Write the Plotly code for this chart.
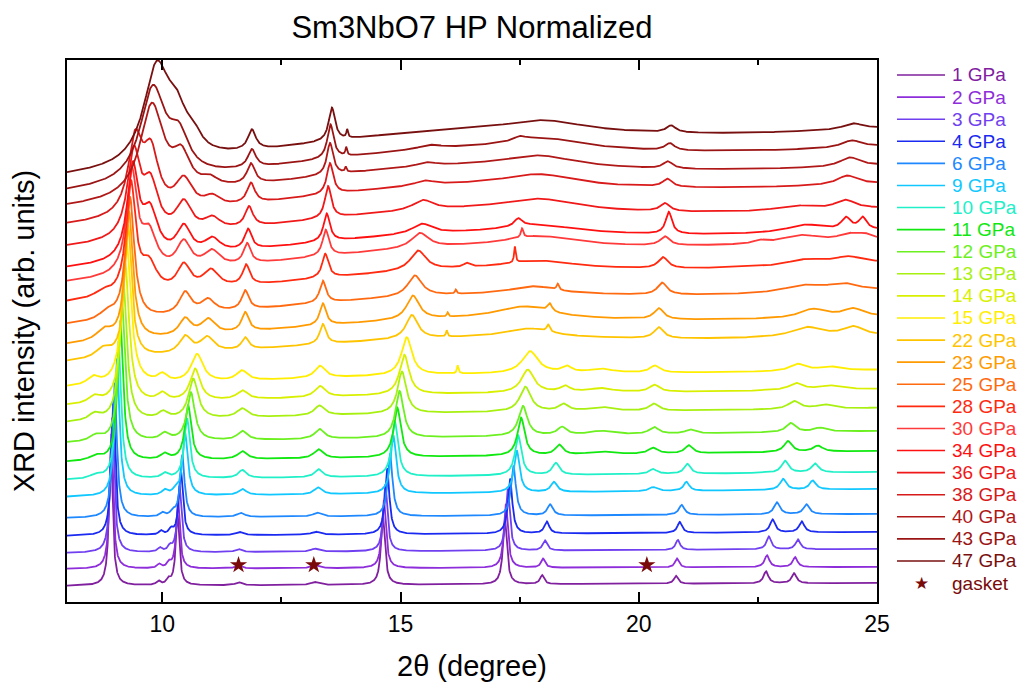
import numpy as np
import plotly.graph_objects as go

# ---------------- data ----------------
pressures = ["1 GPa", "2 GPa", "3 GPa", "4 GPa", "6 GPa", "9 GPa", "10 GPa", "11 GPa",
             "12 GPa", "13 GPa", "14 GPa", "15 GPa", "22 GPa", "23 GPa", "25 GPa",
             "28 GPa", "30 GPa", "34 GPa", "36 GPa", "38 GPa", "40 GPa", "43 GPa", "47 GPa"]

colors = ["#80209F", "#8E2DDA", "#7040F0", "#1A2AF0", "#1E88FF", "#10C8FF", "#20F0C8",
          "#10E810", "#6CF020", "#A8F010", "#D8F000", "#FFEE00", "#FFC400", "#FF9A00",
          "#FF6A10", "#FF2A10", "#FF3A3A", "#FF1010", "#F01818", "#D81A1A", "#B01818",
          "#9A1414", "#781010"]
gasket_color = "#7A0A0A"

# stacked offset of each pattern at 2theta = 8 and 2theta = 25 (arb. units)
base_left = [16, 33, 49, 66, 84, 105, 122, 140, 159, 179, 196, 214,
             239, 256, 276, 298, 318, 332, 353, 375, 393, 408, 424]
base_right = [19, 35, 53, 70, 88, 113, 130, 151, 171, 194, 213, 232,
              266, 285, 311, 338, 361, 371, 393, 418, 436, 455, 473]
# broad amorphous background (height of hump centred near 15.5 deg)
hump_height = [0, 0, 0, 0, 0, 0, 0, 0, 0, 3, 4, 5,
               12, 13, 14, 15, 16, 18, 20, 21, 22, 22, 23]

# Bragg reflections of each pattern: (2theta, height, half width)
peaks_1 = [(8.92, 135, 0.045), (9.92, 4, 0.05), (10.13, 5, 0.05), (10.32, 70, 0.045), (11.6, 3, 0.08),
           (13.2, 3, 0.1), (14.63, 68, 0.05), (17.19, 65, 0.05), (17.97, 9, 0.05), (20.78, 8, 0.05),
           (22.67, 12, 0.06), (23.26, 10, 0.06)]
peaks_2 = [(8.93, 135, 0.045), (9.93, 4, 0.05), (10.14, 5, 0.05), (10.33, 68, 0.045), (11.6, 3, 0.08),
           (13.2, 3, 0.1), (14.65, 68, 0.05), (17.21, 64, 0.05), (17.99, 9, 0.05), (20.8, 9, 0.05),
           (22.69, 12, 0.06), (23.28, 10, 0.06)]
peaks_3 = [(8.95, 135, 0.05), (9.95, 4, 0.05), (10.16, 5, 0.05), (10.36, 66, 0.05), (11.6, 3, 0.08),
           (13.2, 3, 0.1), (14.68, 67, 0.05), (17.25, 62, 0.05), (18.03, 10, 0.055), (20.82, 10, 0.055),
           (22.73, 13, 0.06), (23.34, 10, 0.06)]
peaks_4 = [(8.97, 135, 0.05), (9.97, 4, 0.05), (10.18, 5, 0.05), (10.39, 64, 0.05), (11.62, 3, 0.08),
           (13.22, 3, 0.1), (14.72, 66, 0.055), (17.3, 55, 0.055), (18.07, 12, 0.06), (20.86, 11, 0.06),
           (22.81, 13, 0.065), (23.42, 11, 0.065)]
peaks_6 = [(9.0, 135, 0.055), (10.0, 4, 0.06), (10.22, 5, 0.06), (10.42, 62, 0.055), (11.65, 4, 0.1),
           (13.25, 4, 0.1), (14.78, 63, 0.06), (17.37, 50, 0.06), (18.14, 11, 0.07), (20.9, 10, 0.07),
           (22.9, 12, 0.075), (23.52, 10, 0.075)]
peaks_9 = [(9.05, 138, 0.06), (10.05, 5, 0.07), (10.27, 4, 0.07), (10.48, 62, 0.065), (11.68, 6, 0.1),
           (13.27, 7, 0.1), (14.85, 58, 0.07), (17.44, 42, 0.07), (18.22, 10, 0.08), (20.3, 4, 0.1),
           (21.0, 9, 0.07), (23.03, 11, 0.08), (23.65, 9, 0.08)]
peaks_10 = [(8.6, 4, 0.15), (9.08, 138, 0.065), (10.05, 5, 0.08), (10.52, 60, 0.07), (11.68, 8, 0.1),
            (13.28, 8, 0.1), (14.88, 55, 0.08), (17.47, 40, 0.08), (18.26, 12, 0.09), (20.3, 5, 0.1),
            (21.02, 10, 0.08), (23.07, 12, 0.09), (23.7, 9, 0.09)]
peaks_11 = [(8.6, 5, 0.15), (9.12, 140, 0.07), (10.05, 6, 0.1), (10.54, 55, 0.08), (11.68, 8, 0.12),
            (13.28, 9, 0.12), (14.93, 50, 0.09), (17.53, 38, 0.09), (18.33, 10, 0.1), (19.2, 3, 0.3),
            (20.3, 6, 0.12), (21.05, 8, 0.1), (23.13, 11, 0.1), (23.76, 6, 0.12)]
peaks_12 = [(8.6, 6, 0.15), (9.15, 140, 0.08), (10.05, 7, 0.12), (10.6, 48, 0.1), (11.68, 9, 0.12),
            (13.3, 10, 0.12), (14.98, 47, 0.1), (17.57, 30, 0.11), (18.39, 8, 0.12), (19.2, 4, 0.3),
            (20.32, 7, 0.12), (21.08, 4, 0.12), (23.19, 9, 0.12), (23.8, 4, 0.15)]
peaks_13 = [(8.58, 7, 0.15), (9.18, 140, 0.09), (10.02, 7, 0.12), (10.65, 40, 0.12), (11.68, 9, 0.14),
            (13.3, 10, 0.13), (15.03, 42, 0.11), (17.62, 25, 0.14), (18.42, 7, 0.12), (19.2, 4, 0.3),
            (20.32, 7, 0.12), (23.26, 8, 0.15), (23.9, 4, 0.2)]
peaks_14 = [(8.58, 7, 0.15), (9.22, 140, 0.1), (10.0, 8, 0.12), (10.69, 32, 0.13), (11.68, 9, 0.14),
            (13.31, 11, 0.13), (15.08, 40, 0.12), (17.67, 23, 0.16), (18.45, 6, 0.12), (19.2, 4, 0.3),
            (20.33, 7, 0.13), (23.3, 7, 0.18), (24.0, 4, 0.25)]
peaks_15 = [(8.55, 8, 0.15), (9.25, 142, 0.11), (10.0, 8, 0.12), (10.73, 28, 0.15), (11.67, 10, 0.14),
            (13.31, 12, 0.13), (15.13, 38, 0.13), (16.2, 8, 0.02), (17.72, 22, 0.2), (18.49, 6, 0.12),
            (19.2, 4, 0.3), (20.34, 7, 0.13), (23.34, 7, 0.2), (24.0, 4, 0.25)]
peaks_22 = [(8.76, 10, 0.2), (9.28, 132, 0.09), (10.48, 17, 0.15), (10.94, 15, 0.17), (11.74, 12, 0.09),
            (13.37, 20, 0.08), (15.24, 24, 0.15), (15.97, 6, 0.02), (17.7, 9, 0.6), (18.1, 7, 0.04),
            (20.42, 11, 0.12), (23.53, 10, 0.4), (24.5, 9, 0.25)]
peaks_23 = [(8.78, 11, 0.2), (9.3, 128, 0.1), (10.48, 17, 0.15), (10.96, 15, 0.17), (11.74, 19, 0.09),
            (13.37, 22, 0.08), (15.26, 24, 0.16), (15.99, 4, 0.02), (17.6, 12, 0.7), (18.13, 8, 0.06),
            (20.42, 11, 0.12), (23.66, 9, 0.35), (24.5, 8, 0.25)]
peaks_25 = [(8.84, 8, 0.2), (9.32, 122, 0.11), (10.48, 22, 0.15), (10.96, 13, 0.17), (11.74, 19, 0.09),
            (13.37, 22, 0.08), (15.3, 21, 0.18), (16.16, 4, 0.02), (17.8, 8, 0.6), (18.3, 6, 0.03),
            (20.49, 12, 0.12), (23.45, 7, 0.5), (24.3, 7, 0.4)]
peaks_28 = [(8.75, 6, 0.2), (9.34, 110, 0.12), (9.72, 28, 0.2), (10.45, 25, 0.17), (11.02, 18, 0.2),
            (11.76, 20, 0.09), (13.42, 24, 0.08), (15.37, 20, 0.2), (16.39, 4, 0.08), (17.4, 16, 0.02),
            (17.9, 8, 0.9), (20.51, 11, 0.12), (23.5, 6, 0.5), (24.4, 7, 0.4)]
peaks_30 = [(9.36, 100, 0.13), (9.72, 38, 0.2), (10.45, 27, 0.18), (11.04, 16, 0.2), (11.78, 20, 0.09),
            (13.43, 26, 0.08), (15.41, 15, 0.22), (17.9, 10, 0.9), (17.55, 9, 0.03), (20.55, 9, 0.12),
            (22.54, 3, 0.15), (23.4, 8, 0.5), (24.4, 6, 0.25), (24.75, 5, 0.2)]
peaks_34 = [(9.38, 90, 0.14), (9.74, 45, 0.2), (10.45, 28, 0.18), (11.05, 14, 0.2), (11.8, 20, 0.09),
            (13.45, 28, 0.08), (15.45, 10, 0.25), (17.9, 8, 0.9), (17.47, 8, 0.1), (20.63, 22, 0.08),
            (23.5, 8, 0.5), (24.35, 12, 0.12), (24.7, 12, 0.1)]
peaks_36 = [(9.4, 82, 0.16), (9.75, 50, 0.2), (10.45, 30, 0.2), (11.05, 12, 0.2), (11.82, 20, 0.1),
            (13.48, 32, 0.08), (15.47, 10, 0.25), (17.9, 11, 0.9), (20.55, 8, 0.12), (23.3, 5, 0.5),
            (24.33, 9, 0.25)]
peaks_38 = [(9.43, 72, 0.18), (9.76, 58, 0.2), (10.45, 30, 0.22), (11.05, 10, 0.2), (11.86, 20, 0.1),
            (13.52, 31, 0.08), (15.51, 5, 0.25), (17.9, 11, 0.9), (20.6, 8, 0.12), (24.37, 9, 0.25)]
peaks_40 = [(9.78, 92, 0.3), (10.4, 32, 0.22), (11.0, 8, 0.2), (11.86, 20, 0.1), (13.52, 32, 0.08),
            (13.85, 5, 0.02), (15.55, 4, 0.25), (17.9, 11, 0.9), (20.61, 7, 0.12), (24.43, 9, 0.25)]
peaks_43 = [(9.8, 92, 0.32), (10.35, 35, 0.25), (11.88, 18, 0.1), (13.53, 34, 0.08), (13.86, 8, 0.02),
            (15.62, 4, 0.3), (17.5, 4, 0.15), (18.0, 11, 1.0), (20.65, 7, 0.12), (24.47, 7, 0.25)]
peaks_47 = [(9.88, 95, 0.33), (10.3, 35, 0.25), (10.65, 15, 0.2), (11.88, 20, 0.1), (13.56, 33, 0.08),
            (13.88, 8, 0.02), (18.0, 11, 1.0), (20.68, 7, 0.12), (24.5, 6, 0.25)]

all_peaks = [peaks_1, peaks_2, peaks_3, peaks_4, peaks_6, peaks_9, peaks_10, peaks_11, peaks_12,
             peaks_13, peaks_14, peaks_15, peaks_22, peaks_23, peaks_25, peaks_28, peaks_30,
             peaks_34, peaks_36, peaks_38, peaks_40, peaks_43, peaks_47]

# gasket reflections marked with stars on the 2 GPa pattern
gasket_x = [11.6, 13.18, 20.17]
gasket_y = [37, 37, 37]

x_range = [8, 25]
y_range = [0, 542]
tick_vals = [10, 15, 20, 25]

# ---------------- build the figure ----------------
W, H = 1028, 682
ML, MR, MT, MB = 67, 151, 60, 80
PW, PH = W - ML - MR, H - MT - MB

two_theta = np.arange(8.0, 25.0001, 0.005)


def pattern(i):
    y = base_left[i] + (base_right[i] - base_left[i]) * (two_theta - 8.0) / 17.0
    y = y + hump_height[i] * np.exp(-0.5 * ((two_theta - 15.5) / 3.5) ** 2)
    for c, h, w in all_peaks[i]:
        y = y + h / (1.0 + ((two_theta - c) / w) ** 2)
    return y


fig = go.Figure()
for i, name in enumerate(pressures):
    fig.add_trace(go.Scatter(
        x=two_theta, y=pattern(i), mode="lines",
        line=dict(color=colors[i], width=1.8), name=name, showlegend=False,
    ))

fig.add_trace(go.Scatter(
    x=gasket_x, y=gasket_y, mode="markers",
    marker=dict(symbol="star", size=13, color=gasket_color), name="gasket", showlegend=False,
))

# legend drawn at the right of the frame (coloured labels like the original)
shapes, annotations = [], []
legend_names = pressures + ["gasket"]
legend_colors = colors + [gasket_color]
for k, (nm, col) in enumerate(zip(legend_names, legend_colors)):
    py = 75 + 22.09 * k
    yp = (H - MB - py) / PH
    if nm != "gasket":
        shapes.append(dict(type="line", xref="paper", yref="paper",
                           x0=(897 - ML) / PW, x1=(945 - ML) / PW, y0=yp, y1=yp,
                           line=dict(color=col, width=1.6)))
    else:
        annotations.append(dict(xref="paper", yref="paper", x=(921 - ML) / PW, y=yp,
                                text="★", showarrow=False, xanchor="center", yanchor="middle",
                                font=dict(size=17, color=col)))
    annotations.append(dict(xref="paper", yref="paper", x=(950 - ML) / PW, y=yp, text=nm,
                            showarrow=False, xanchor="left", yanchor="middle",
                            font=dict(size=19, color=col)))

fig.update_layout(
    width=W, height=H,
    margin=dict(l=ML, r=MR, t=MT, b=MB, autoexpand=False),
    paper_bgcolor="white", plot_bgcolor="white",
    font=dict(family="Arial, Liberation Sans, sans-serif", color="black"),
    title=dict(text="Sm3NbO7 HP Normalized", x=472 / W, xanchor="center",
               y=1 - 27 / H, yanchor="middle", font=dict(size=31, color="black")),
    showlegend=False,
    shapes=shapes, annotations=annotations,
)
fig.update_xaxes(
    range=x_range, tickvals=tick_vals, ticks="inside", ticklen=10, tickwidth=1.5,
    tickcolor="black", showline=True, linecolor="black", linewidth=2, mirror="ticks",
    showgrid=False, zeroline=False, tickfont=dict(size=23), automargin=False,
    minor=dict(ticks="inside", ticklen=5, tickwidth=1.5, tickcolor="black", dtick=2.5, tick0=0,
               showgrid=False),
    title=dict(text="2θ (degree)", font=dict(size=29), standoff=20),
)
fig.update_yaxes(
    range=y_range, showticklabels=False, ticks="", showline=True, linecolor="black",
    linewidth=2, mirror=True, showgrid=False, zeroline=False, automargin=False,
    title=dict(text="XRD intensity (arb. units)", font=dict(size=29), standoff=22),
)

fig.write_html("out.html", config={"displayModeBar": False},
               post_script="document.body.style.margin='0';")
